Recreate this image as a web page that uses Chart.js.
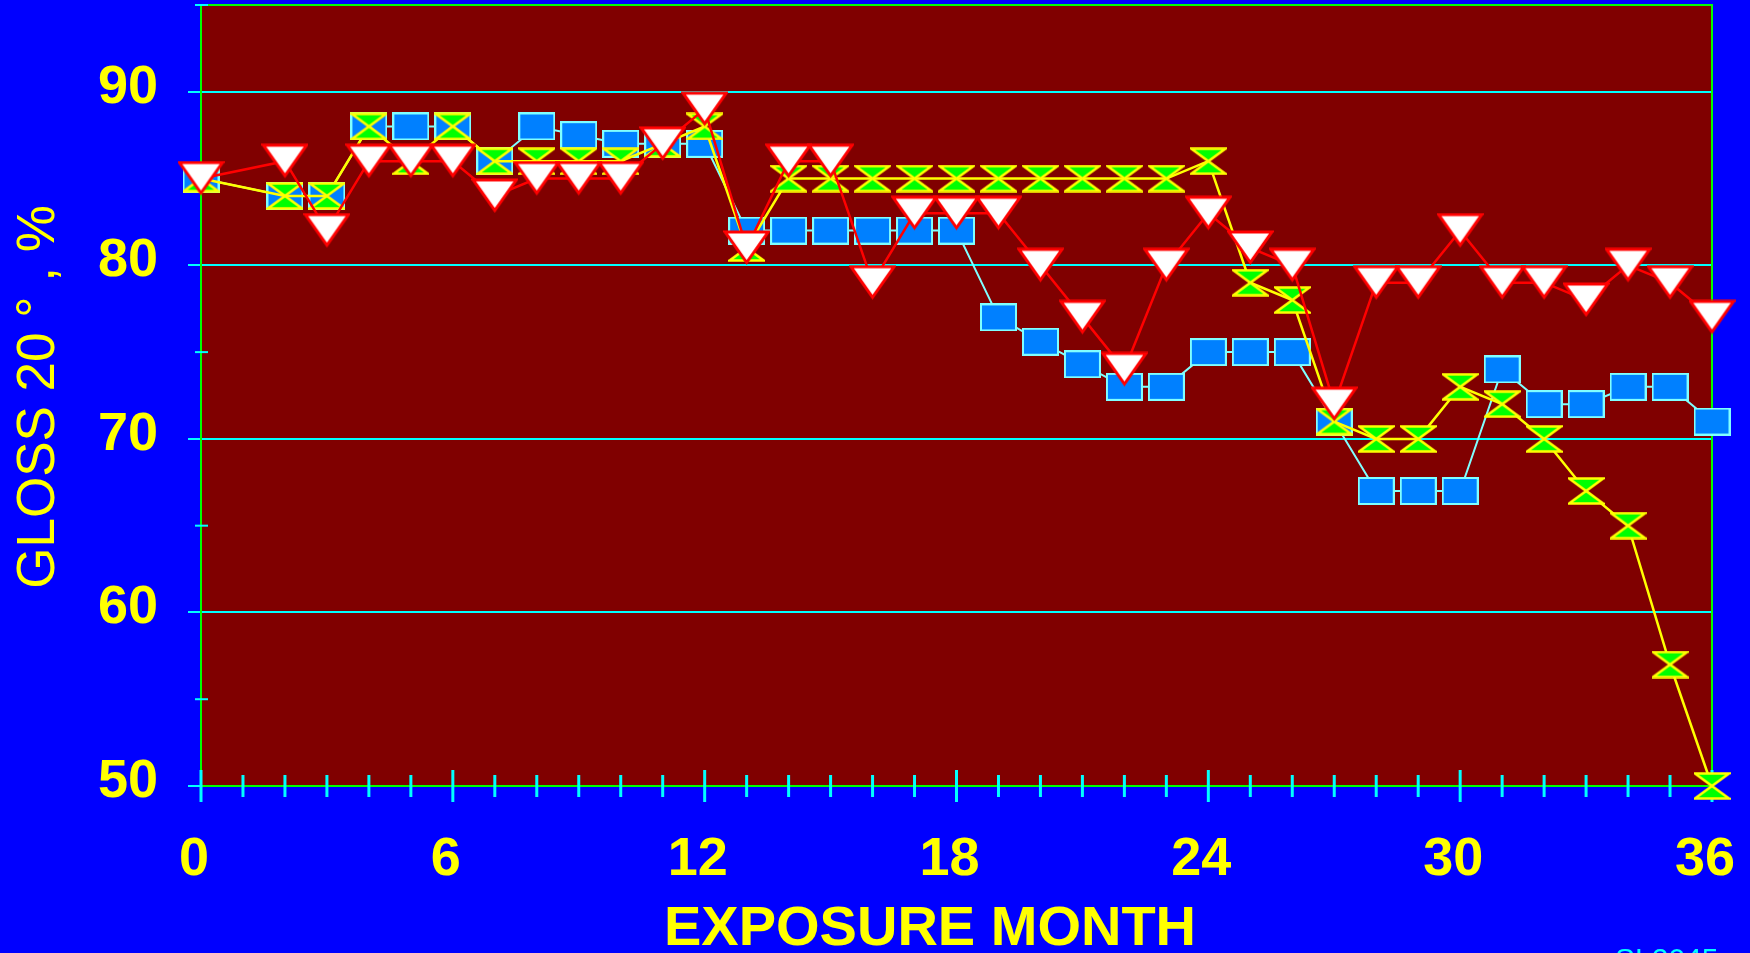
<!DOCTYPE html>
<html lang="en">
<head>
<meta charset="UTF-8">
<title>Gloss 20° vs exposure month</title>
<script src="https://cdn.jsdelivr.net/npm/chart.js"></script>
<style>
  html, body { margin: 0; padding: 0; background: #0000ff; }
  #wrap { width: 1750px; height: 953px; }
</style>
</head>
<body>
<div id="wrap"><canvas id="glossChart" width="1750" height="953"></canvas></div>
<script>
// exposure months (month 1 has no reading)
const months = [0, 2, 3, 4, 5, 6, 7, 8, 9, 10, 11, 12, 13, 14, 15, 16, 17, 18,
                19, 20, 21, 22, 23, 24, 25, 26, 27, 28, 29, 30, 31, 32, 33, 34, 35, 36];

// blue squares
const squareGloss = [85, 84, 84, 88, 88, 88, 86, 88, 87.5, 87, 87, 87, 82, 82, 82, 82, 82, 82,
                     77, 75.6, 74.3, 73, 73, 75, 75, 75, 71, 67, 67, 67, 74, 72, 72, 73, 73, 71];
// green bowties
const bowtieGloss = [85, 84, 84, 88, 86, 88, 86, 86, 86, 86, 87, 88, 81, 85, 85, 85, 85, 85,
                     85, 85, 85, 85, 85, 86, 79, 78, 71, 70, 70, 73, 72, 70, 67, 65, 57, 50];
// white triangles
const triangleGloss = [85, 86, 82, 86, 86, 86, 84, 85, 85, 85, 87, 89, 81, 86, 86, 79, 83, 83,
                       83, 80, 77, 74, 80, 83, 81, 80, 72, 79, 79, 82, 79, 79, 78, 80, 79, 77];

const xLabelValues = [0, 6, 12, 18, 24, 30, 36];
const yLabelValues = [50, 60, 70, 80, 90];
const yMinorValues = [55, 65, 75, 85, 95];

const toPoints = vals => months.map((m, i) => ({ x: m, y: vals[i] }));

function makeMarker(w, h, draw) {
    const c = document.createElement('canvas');
    c.width = w;
    c.height = h;
    draw(c.getContext('2d'), w, h);
    return c;
}

const squareMark = makeMarker(37, 28, (g, w, h) => {
    g.fillStyle = '#0080ff';
    g.fillRect(1, 1, w - 2, h - 2);
    g.strokeStyle = '#80ffff';
    g.lineWidth = 2;
    g.strokeRect(1, 1, w - 2, h - 2);
});

const bowtieMark = makeMarker(37, 28, (g, w, h) => {
    g.beginPath();
    g.moveTo(1.5, 1.5);
    g.lineTo(w - 1.5, 1.5);
    g.lineTo(1.5, h - 1.5);
    g.lineTo(w - 1.5, h - 1.5);
    g.closePath();
    g.fillStyle = '#00ff00';
    g.fill();
    g.strokeStyle = '#ffff00';
    g.lineWidth = 2.5;
    g.stroke();
});

const triangleMark = makeMarker(47, 36, (g, w) => {
    g.beginPath();
    g.moveTo(2, 2);
    g.lineTo(w - 2, 2);
    g.lineTo(w / 2, 32.5);
    g.closePath();
    g.fillStyle = '#ffffff';
    g.fill();
    g.strokeStyle = '#ff0000';
    g.lineWidth = 3;
    g.lineJoin = 'miter';
    g.stroke();
});

const frame = {
    id: 'frame',
    beforeDraw(chart) {
        const { ctx, chartArea: a } = chart;
        ctx.save();
        ctx.fillStyle = '#800000';
        ctx.fillRect(a.left, a.top, a.right - a.left, a.bottom - a.top);
        ctx.restore();
    },
    beforeDatasetsDraw(chart) {
        const { ctx, chartArea: a, scales: { x, y } } = chart;
        ctx.save();
        ctx.strokeStyle = '#00ff00';
        ctx.lineWidth = 2;
        ctx.beginPath();
        ctx.moveTo(a.left, a.top);
        ctx.lineTo(a.right, a.top);
        ctx.lineTo(a.right, a.bottom);
        ctx.stroke();

        // month ticks crossing the x axis
        ctx.strokeStyle = '#00ffff';
        ctx.lineWidth = 3;
        for (let m = 0; m <= 36; m++) {
            const px = x.getPixelForValue(m);
            const len = m % 6 === 0 ? 16 : 11;
            ctx.beginPath();
            ctx.moveTo(px, a.bottom - len);
            ctx.lineTo(px, a.bottom + len);
            ctx.stroke();
        }
        // minor ticks on y
        ctx.lineWidth = 2;
        yMinorValues.forEach(v => {
            const py = y.getPixelForValue(v);
            ctx.beginPath();
            ctx.moveTo(a.left - 6, py);
            ctx.lineTo(a.left + 7, py);
            ctx.stroke();
        });
        ctx.restore();
    },
    afterDraw(chart) {
        const { ctx } = chart;
        ctx.save();
        ctx.fillStyle = '#ffff00';
        ctx.textAlign = 'center';
        ctx.textBaseline = 'alphabetic';
        ctx.font = 'bold 56px "Liberation Sans", Arial, sans-serif';
        ctx.fillText('EXPOSURE MONTH', 930, 945);

        ctx.font = '53px "Liberation Sans", Arial, sans-serif';
        ctx.translate(54, 397);
        ctx.rotate(-Math.PI / 2);
        ctx.fillText('GLOSS 20 ° , %', 0, 0);
        ctx.restore();

        ctx.save();
        ctx.fillStyle = '#00ffff';
        ctx.font = '30px "Liberation Sans", Arial, sans-serif';
        ctx.textAlign = 'left';
        ctx.fillText('SL2045', 1615, 969);
        ctx.restore();
    }
};

Chart.defaults.font.family = '"Liberation Sans", Arial, sans-serif';

new Chart(document.getElementById('glossChart'), {
    type: 'line',
    data: {
        datasets: [
            {
                label: 'triangles',
                data: toPoints(triangleGloss),
                borderColor: '#ff0000',
                borderWidth: 2.5,
                pointStyle: triangleMark,
                pointRadius: 12,
                tension: 0,
                fill: false,
                clip: false
            },
            {
                label: 'bowties',
                data: toPoints(bowtieGloss),
                borderColor: '#ffff00',
                borderWidth: 2.5,
                pointStyle: bowtieMark,
                pointRadius: 12,
                tension: 0,
                fill: false,
                clip: false
            },
            {
                label: 'squares',
                data: toPoints(squareGloss),
                borderColor: '#80ffff',
                borderWidth: 2,
                pointStyle: squareMark,
                pointRadius: 12,
                tension: 0,
                fill: false,
                clip: false
            }
        ]
    },
    options: {
        responsive: false,
        animation: false,
        devicePixelRatio: 1,
        layout: { autoPadding: false, padding: { top: 5, right: 38, left: 0, bottom: 0 } },
        plugins: { legend: { display: false }, tooltip: { enabled: false } },
        scales: {
            x: {
                type: 'linear',
                min: 0,
                max: 36,
                afterBuildTicks: s => { s.ticks = xLabelValues.map(v => ({ value: v })); },
                afterFit: s => { s.height = 167; s.paddingLeft = 0; s.paddingRight = 0; },
                grid: { drawOnChartArea: false, drawTicks: false },
                border: { color: '#00ff00', width: 2 },
                ticks: {
                    color: '#ffff00',
                    font: { size: 54, weight: 'bold' },
                    padding: 42,
                    labelOffset: -7,
                    maxRotation: 0,
                    autoSkip: false
                }
            },
            y: {
                min: 50,
                max: 95,
                afterBuildTicks: s => { s.ticks = yLabelValues.map(v => ({ value: v })); },
                afterFit: s => { s.width = 201; s.paddingTop = 0; s.paddingBottom = 0; },
                grid: {
                    color: c => (c.tick && c.tick.value === 50) ? 'rgba(0,0,0,0)' : '#00ffff',
                    tickColor: '#00ffff',
                    lineWidth: 2,
                    tickLength: 13
                },
                border: { color: '#00ff00', width: 2 },
                ticks: {
                    color: '#ffff00',
                    font: { size: 54, weight: 'bold' },
                    padding: 30,
                    labelOffset: -4,
                    autoSkip: false
                }
            }
        }
    },
    plugins: [frame]
});
</script>
</body>
</html>
